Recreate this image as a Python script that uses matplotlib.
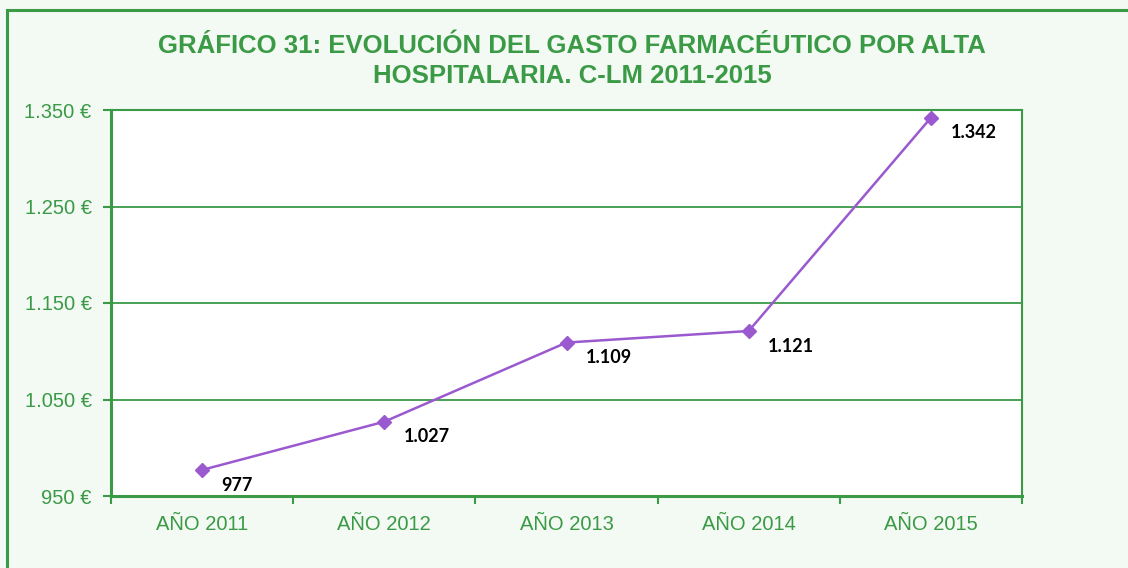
import matplotlib
matplotlib.use("Agg")
import matplotlib.pyplot as plt
from matplotlib.patches import Rectangle

categories = ["AÑO 2011", "AÑO 2012", "AÑO 2013", "AÑO 2014", "AÑO 2015"]
values = [977, 1027, 1109, 1121, 1342]
value_labels = ["977", "1.027", "1.109", "1.121", "1.342"]
yticks = [950, 1050, 1150, 1250, 1350]
ytick_labels = ["950 €", "1.050 €", "1.150 €", "1.250 €", "1.350 €"]
title = "GRÁFICO 31: EVOLUCIÓN DEL GASTO FARMACÉUTICO POR ALTA\nHOSPITALARIA. C-LM 2011-2015"

GREEN = "#3a9a45"
BG = "#f3f9f3"
PURPLE = "#9b59d0"

fig = plt.figure(figsize=(11.28, 5.68), dpi=100)
fig.patch.set_facecolor(BG)
# outer frame
fig.patches.append(Rectangle((7/1128, -0.1), 1.2, 1 - 10/568 + 0.1, transform=fig.transFigure,
                             fill=False, edgecolor=GREEN, linewidth=2.2))

ax = fig.add_axes([111/1128, 1 - 496/568, (1022 - 111)/1128, (496 - 110)/568])
ax.set_facecolor("white")
x = list(range(len(categories)))
ax.plot(x, values, color=PURPLE, linewidth=1.8, marker="D", markersize=7,
        markerfacecolor=PURPLE, markeredgecolor=PURPLE, zorder=3)

ax.set_xlim(-0.5, len(categories) - 0.5)
ax.set_ylim(950, 1350)
ax.set_yticks(yticks)
ax.set_yticklabels(ytick_labels)
ax.set_xticks(x)
ax.set_xticklabels(categories)
ax.set_xticks([i - 0.5 for i in range(len(categories) + 1)], minor=True)
ax.tick_params(axis="x", which="major", length=0, pad=14, labelcolor=GREEN, labelsize=14.5)
ax.tick_params(axis="x", which="minor", length=6, width=1.5, color=GREEN)
ax.tick_params(axis="y", length=6, width=1.5, color=GREEN, labelcolor=GREEN, labelsize=14.5, pad=8)
for lab in ax.get_xticklabels() + ax.get_yticklabels():
    lab.set_fontfamily("Liberation Sans")

ax.grid(axis="y", color=GREEN, linewidth=1.3)
ax.set_axisbelow(True)
for side in ["left", "bottom"]:
    ax.spines[side].set_color(GREEN)
    ax.spines[side].set_linewidth(2.2)
for side in ["top", "right"]:
    ax.spines[side].set_color(GREEN)
    ax.spines[side].set_linewidth(1.5)

for xi, v, lab in zip(x, values, value_labels):
    ax.annotate(lab, (xi, v), xytext=(14, -11), textcoords="offset points",
                ha="left", va="center", fontsize=13, fontweight="bold",
                family="Lato", color="black")

fig.text(572/1128, 1 - 61/568, title, ha="center", va="center", fontsize=18.5,
         fontweight="bold", color=GREEN, family="Liberation Sans", linespacing=1.3)

fig.savefig("out.png", dpi=100, facecolor=BG)
